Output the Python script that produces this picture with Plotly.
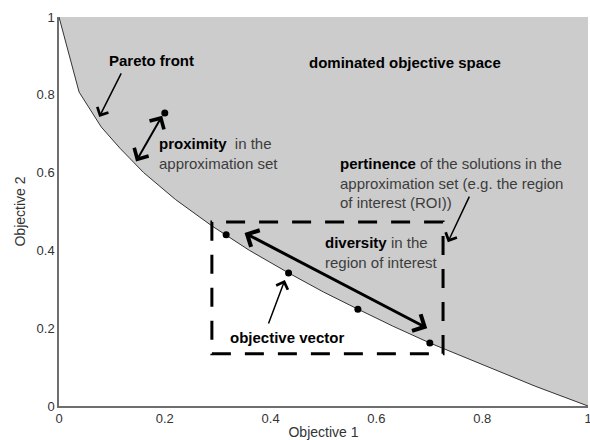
import plotly.graph_objects as go

# Pareto front
front_x = [0, 0.038, 0.08, 0.115, 0.16, 0.22, 0.289, 0.36, 0.434, 0.5, 0.565, 0.63, 0.701, 0.8, 0.9, 1.0]
front_y = [1, 0.807, 0.717, 0.663, 0.6, 0.531, 0.463, 0.4, 0.342, 0.293, 0.249, 0.206, 0.162, 0.106, 0.051, 0]

# solutions (objective vectors)
sol_x = [0.2, 0.316, 0.434, 0.565, 0.701]
sol_y = [0.753, 0.44, 0.342, 0.249, 0.162]

# region of interest box
roi_x = [0.289, 0.726]
roi_y = [0.134, 0.473]

tick_vals = [0, 0.2, 0.4, 0.6, 0.8, 1]
tick_text = ["0", "0.2", "0.4", "0.6", "0.8", "1"]

FONT = "Arial, Liberation Sans, sans-serif"
GRAY_TXT = "#3c3c3c"

fig = go.Figure()

# dominated region (above front)
fig.add_trace(go.Scatter(
    x=front_x + [1, 0], y=front_y + [1, 1],
    fill="toself", fillcolor="#cccccc", mode="lines",
    line=dict(width=0, color="#cccccc"), hoverinfo="skip", showlegend=False))

# front line
fig.add_trace(go.Scatter(
    x=front_x, y=front_y, mode="lines",
    line=dict(color="#333333", width=1), hoverinfo="skip", showlegend=False))

# solution points
fig.add_trace(go.Scatter(
    x=sol_x, y=sol_y, mode="markers",
    marker=dict(color="black", size=7), showlegend=False))

fig.add_shape(type="rect", xref="x", yref="y",
              x0=roi_x[0], x1=roi_x[1], y0=roi_y[0], y1=roi_y[1],
              line=dict(color="black", width=3, dash="19px,14px"))

# arrows: (head_x, head_y, tail_x, tail_y, width, double)
arrows = [
    (0.076, 0.743, 0.119, 0.859, 1.5, False),   # Pareto front
    (0.195, 0.746, 0.144, 0.625, 2.0, True),    # proximity
    (0.696, 0.200, 0.348, 0.447, 3.0, True),    # diversity
    (0.735, 0.421, 0.777, 0.542, 1.5, False),   # pertinence
    (0.427, 0.324, 0.395, 0.208, 1.5, False),   # objective vector
]
for hx, hy, tx, ty, w, dbl in arrows:
    fig.add_annotation(
        x=hx, y=hy, ax=tx, ay=ty, xref="x", yref="y", axref="x", ayref="y",
        text="", showarrow=True, arrowhead=4, arrowsize=1.6 if w < 3 else 1.2,
        arrowwidth=w, arrowcolor="black", standoff=0, startstandoff=0,
        arrowside="end+start" if dbl else "end", startarrowhead=4,
        startarrowsize=1.6 if w < 3 else 1.2)

def gray(s):
    return "<span style='color:%s'>%s</span>" % (GRAY_TXT, s)

labels = [
    (0.091, 0.889, "<b>Pareto front</b>"),
    (0.469, 0.882, "<b>dominated objective space</b>"),
    (0.185, 0.649, "<b>proximity</b>  " + gray("in the") + "<br>" + gray("approximation set")),
    (0.527, 0.572, "<b>pertinence</b> " + gray("of the solutions in the") + "<br>"
     + gray("approximation set (e.g. the region") + "<br>" + gray("of interest (ROI))")),
    (0.499, 0.395, "<b>diversity</b> " + gray("in the") + "<br>" + gray("region of interest")),
    (0.320, 0.175, "<b>objective vector</b>"),
]
for x, y, t in labels:
    fig.add_annotation(x=x, y=y, xref="x", yref="y", text=t, showarrow=False,
                       xanchor="left", yanchor="middle", align="left",
                       font=dict(family=FONT, size=15, color="black"))

axis_common = dict(
    range=[0, 1], showgrid=False, zeroline=False, showline=True,
    linecolor="#6e6e6e", linewidth=1.5, ticks="", tickvals=tick_vals,
    ticktext=tick_text, tickfont=dict(family=FONT, size=13, color="#333333"),
    fixedrange=True, automargin=False, ticklabeloverflow="allow")

fig.update_xaxes(**axis_common,
                 title=dict(text="Objective 1", font=dict(family=FONT, size=14, color="#333333"), standoff=4))
fig.update_yaxes(**axis_common,
                 title=dict(text="Objective 2", font=dict(family=FONT, size=14, color="#333333"), standoff=8))

fig.update_layout(
    width=590, height=440,
    margin=dict(l=59, r=2, t=17, b=34),
    paper_bgcolor="white", plot_bgcolor="white",
    showlegend=False,
)

fig.write_html(
    "out.html",
    config={"displayModeBar": False},
    post_script="document.body.style.margin='0';document.body.style.overflow='hidden';",
)
